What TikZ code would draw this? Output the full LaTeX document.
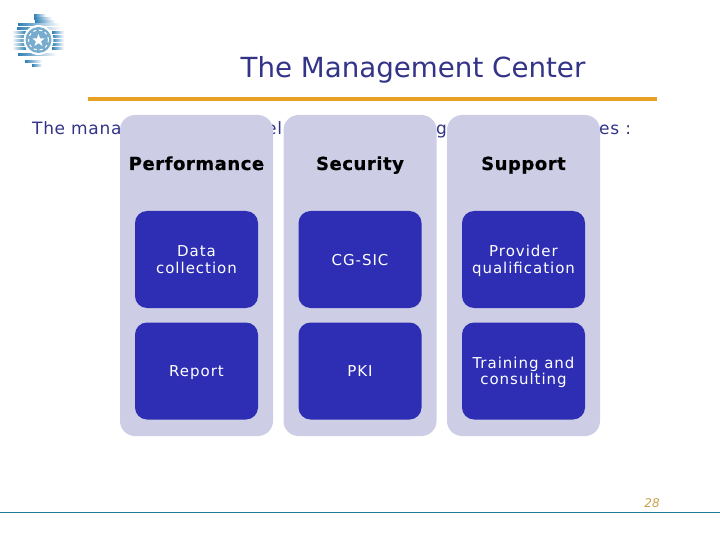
\documentclass[tikz,border=0pt]{standalone}
\usepackage{fontspec}
\setmainfont{DejaVu Sans}
\definecolor{panelcol}{HTML}{CDCEE6}
\definecolor{boxcol}{HTML}{2E2EB4}
\definecolor{inkcol}{HTML}{333388}
\definecolor{rulecol}{HTML}{E8A124}
\definecolor{footcol}{HTML}{1F7A96}
\definecolor{numcol}{HTML}{C9A14A}
\definecolor{logocol}{HTML}{2F7FB5}
\tikzset{
  panel/.style={fill=panelcol, rounded corners=15pt, minimum width=153pt, minimum height=321pt, inner sep=0pt},
  head/.style={font=\fontsize{18}{20}\selectfont\bfseries\addfontfeatures{LetterSpace=3,FakeBold=0.6}, text=black, anchor=base},
  item/.style={fill=boxcol, rounded corners=12pt, minimum width=123pt, minimum height=97pt, inner sep=0pt,
    align=center, text=white, text depth=0pt, font=\fontsize{15}{16.5}\selectfont\addfontfeatures{LetterSpace=6.5}},
  intro/.style={font=\fontsize{17}{19}\selectfont\addfontfeatures{LetterSpace=4}, text=inkcol, inner sep=0pt, anchor=base west},
  stripel/.style={left color=logocol, right color=white},
  striper/.style={left color=white, right color=logocol}
}
\begin{document}
\begin{tikzpicture}[x=1pt,y=-1pt]
\useasboundingbox (0,0) rectangle (720,540);
% logo
\foreach \yy/\xa/\xb in {15/34/46,18/34/52,21/35/55,24/18/60,28/17/61,54/18/57,61/25/42,65/32/42}
  \shade[stripel] (\xa,\yy) rectangle (\xb,\yy+1.2);
\foreach \yy in {32,36,40,44,48} {
  \shade[striper] (12,\yy) rectangle (26,\yy+1.2);
  \shade[stripel] (52,\yy) rectangle (64,\yy+1.2);
}
\fill[white] (38.5,40) circle (15pt);
\fill[logocol!65] (38.5,40) circle (13pt);
\draw[white, dashed, line width=1pt] (38.5,40) circle (10pt);
\fill[white] (38.5,34) -- (40,38.5) -- (44.5,38.5) -- (41,41.5) -- (42.5,46) -- (38.5,43.2)
  -- (34.5,46) -- (36,41.5) -- (32.5,38.5) -- (37,38.5) -- cycle;
% title
\node (title) [font=\fontsize{27.7}{30}\selectfont, text=inkcol] at (413,70) {The Management Center};
\fill[rulecol] (88,97) rectangle (657,101);
% sentence behind the panels
\node (introa) [intro] at (32,135) {The mana};
\node (introb) [intro] at (266,135) {el};
\node (introc) [intro] at (436,135) {go};
\node (introd) [intro] at (599,135) {es :};
% panels
\node (perf) [panel] at (196.5,275.5) {};
\node (secu) [panel] at (360,275.5) {};
\node (supp) [panel] at (523.5,275.5) {};
\node (perfhead) [head] at (196.5,170) {Performance};
\node (secuhead) [head] at (360,170) {Security};
\node (supphead) [head] at (523.5,170) {Support};
\node (data) [item] at (196.5,259.5) {Data\\collection};
\node (cgsic) [item] at (360,259.5) {CG-SIC};
\node (prov) [item] at (523.5,259.5) {Provider\\quali{}fication};
\node (report) [item] at (196.5,371) {Report};
\node (pki) [item] at (360,371) {PKI};
\node (train) [item] at (523.5,371) {Training and\\consulting};
% footer
\draw[footcol, line width=1pt] (0,512.5) -- (720,512.5);
\node (page) [font=\fontsize{12}{14}\selectfont\itshape, text=numcol] at (652,503) {28};
\end{tikzpicture}
\end{document}
